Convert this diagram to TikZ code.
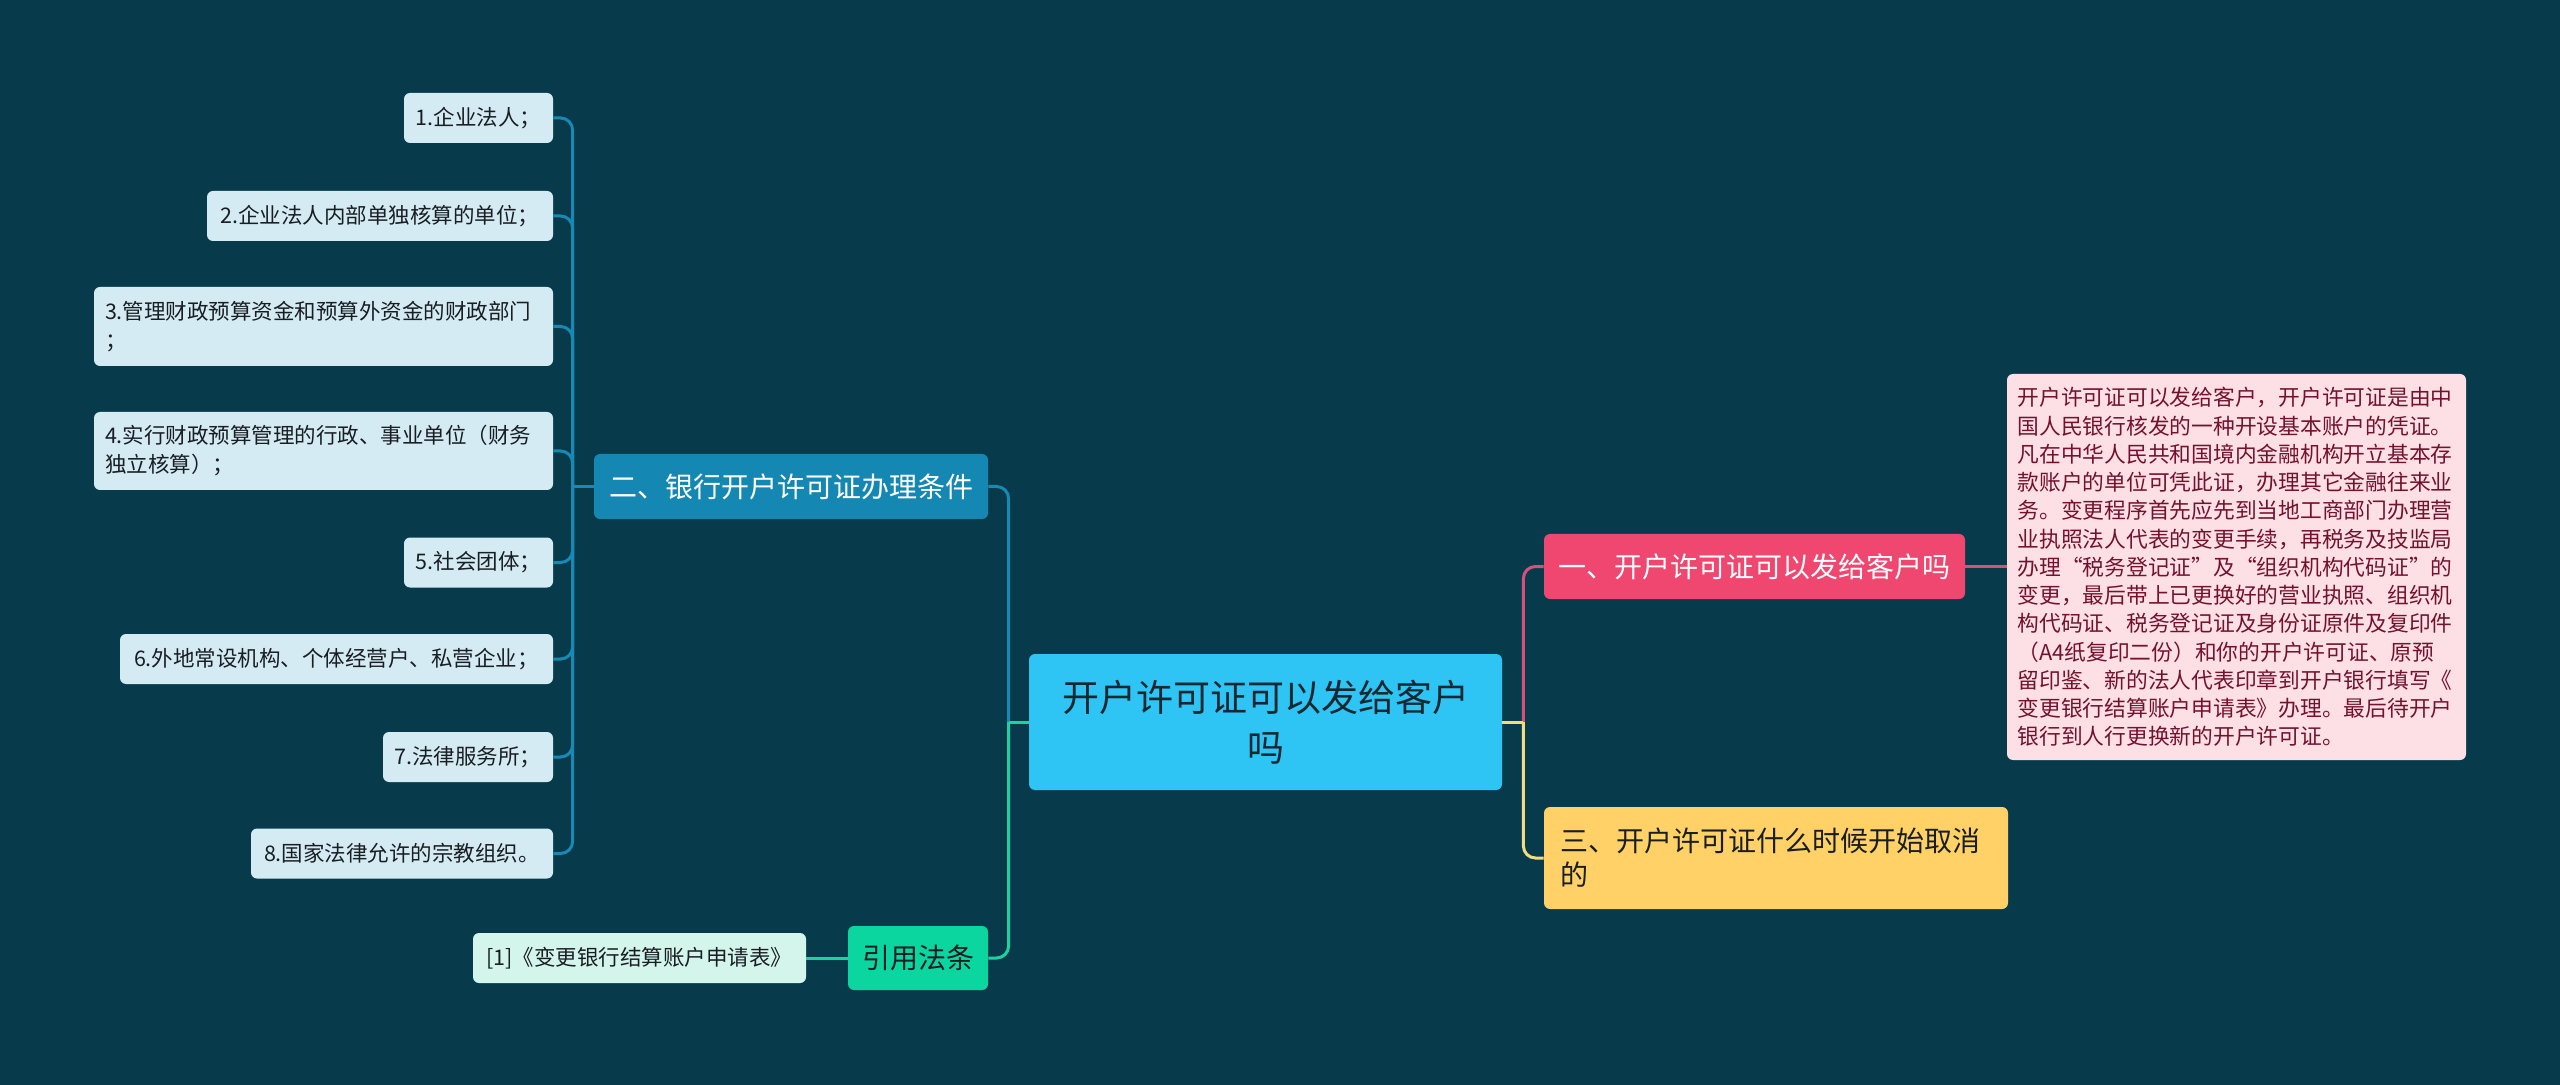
\documentclass[tikz,border=0pt]{standalone}
\usepackage{fontspec}
\setmainfont{Noto Sans CJK SC}
\usetikzlibrary{calc}
\definecolor{bg}{HTML}{073B4C}
\definecolor{centerfill}{RGB}{46,196,243}
\definecolor{centertext}{RGB}{20,40,50}
\definecolor{bluefill}{RGB}{20,136,178}
\definecolor{pinkfill}{HTML}{EF476F}
\definecolor{yellowfill}{HTML}{FFD166}
\definecolor{greenfill}{RGB}{12,214,160}
\definecolor{itemfill}{RGB}{212,235,243}
\definecolor{reffill}{RGB}{212,245,236}
\definecolor{descfill}{RGB}{253,224,230}
\definecolor{desctext}{RGB}{115,18,48}
\definecolor{darktext}{RGB}{25,30,35}
\definecolor{lineblue}{RGB}{24,136,180}
\definecolor{linegreen}{RGB}{28,210,160}
\definecolor{linepink}{RGB}{212,82,122}
\definecolor{lineyellow}{RGB}{240,220,130}
\begin{document}
\begin{tikzpicture}[x=0.5pt,y=-0.5pt,
  box/.style={rectangle, rounded corners=3pt, inner sep=0pt, align=center},
  itembox/.style={box, fill=itemfill, text=darktext, minimum height=25pt,
    font=\fontsize{10.75pt}{14.5pt}\selectfont},
  mainbox/.style={box, minimum height=32.5pt, font=\fontsize{14pt}{17pt}\selectfont},
  conn/.style={line width=1.5pt},
  lblue/.style={conn, draw=lineblue},
  lgreen/.style={conn, draw=linegreen},
  lpink/.style={conn, draw=linepink},
  lyellow/.style={conn, draw=lineyellow},
  rc/.style={rounded corners=6pt}]
\fill[bg] (0,0) rectangle (2560,1085);
\useasboundingbox (0,0) rectangle (2560,1085);

% center
\node[box, fill=centerfill, text=centertext, minimum width=236.5pt, minimum height=68pt,
  font=\fontsize{18.5pt}{25pt}\selectfont] (c) at (1265.5,722) {开户许可证可以发给客户\\吗};

% right side
\node[mainbox, fill=pinkfill, text=white, minimum width=210.5pt] (b1) at (1754.5,566.5) {一、开户许可证可以发给客户吗};
\node[mainbox, fill=yellowfill, text=darktext, text width=216pt, inner xsep=8pt,
  minimum height=51pt, align=left] (b3) at (1776,858) {三、开户许可证什么时候开始取消\\的};
\node[box, fill=descfill, text=desctext, text width=219pt, inner xsep=5.25pt,
  minimum height=193pt, align=left, font=\fontsize{10.875pt}{14.12pt}\selectfont] (d) at (2236.5,567)
{开户许可证可以发给客户，开户许可证是由中\\
国人民银行核发的一种开设基本账户的凭证。\\
凡在中华人民共和国境内金融机构开立基本存\\
款账户的单位可凭此证，办理其它金融往来业\\
务。变更程序首先应先到当地工商部门办理营\\
业执照法人代表的变更手续，再税务及技监局\\
办理“税务登记证”及“组织机构代码证”的\\
变更，最后带上已更换好的营业执照、组织机\\
构代码证、税务登记证及身份证原件及复印件\\
（A4纸复印二份）和你的开户许可证、原预\\
留印鉴、新的法人代表印章到开户银行填写《\\
变更银行结算账户申请表》办理。最后待开户\\
银行到人行更换新的开户许可证。};

% left side
\node[mainbox, fill=bluefill, text=white, minimum width=197pt] (b2) at (791,486.5) {二、银行开户许可证办理条件};
\node[mainbox, fill=greenfill, text=darktext, minimum width=70pt, minimum height=32pt] (cite) at (918,958) {引用法条};
\node[box, fill=reffill, text=darktext, minimum width=166.5pt, minimum height=25pt,
  font=\fontsize{10.75pt}{14.5pt}\selectfont] (ref) at (639.5,958) {[1]《变更银行结算账户申请表》};

\node[itembox, minimum width=74.5pt] (i1) at (478.5,118) {1.企业法人；};
\node[itembox, minimum width=173pt] (i2) at (380,216) {2.企业法人内部单独核算的单位；};
\node[itembox, text width=218.5pt, inner xsep=5.5pt, minimum height=39.5pt, align=left] (i3) at (323.5,326.5)
  {3.管理财政预算资金和预算外资金的财政部门\\；};
\node[itembox, text width=218.5pt, inner xsep=5.5pt, minimum height=39pt, align=left] (i4) at (323.5,451)
  {4.实行财政预算管理的行政、事业单位（财务\\独立核算）；};
\node[itembox, minimum width=74.5pt] (i5) at (478.5,562.5) {5.社会团体；};
\node[itembox, minimum width=216.5pt] (i6) at (336.5,659) {6.外地常设机构、个体经营户、私营企业；};
\node[itembox, minimum width=85pt] (i7) at (468,757) {7.法律服务所；};
\node[itembox, minimum width=151pt] (i8) at (402,853.5) {8.国家法律允许的宗教组织。};

% junctions
\coordinate (jl) at ($(c.west)+(-10pt,0)$);
\coordinate (jr) at ($(c.east)+(10.5pt,0)$);
\coordinate (jt) at ($(b2.west)+(-10.5pt,0)$);

% connectors
\draw[lblue, rc] (jl) |- (b2.east);
\draw[lgreen, rc] (jl) |- (cite.east);
\draw[lgreen] (c.west) -- (jl);
\draw[lpink, rc] (jr) |- (b1.west);
\draw[lyellow, rc] (jr) |- (b3.west);
\draw[lyellow] (c.east) -- (jr);
\draw[lpink] (b1.east) -- (b1.east -| d.west);
\draw[lgreen] (ref.east) -- (cite.west);
\draw[lblue] (b2.west) -- (jt);
\foreach \n in {1,...,8} {
  \draw[lblue, rc] (jt) |- (i\n.east);
}
\end{tikzpicture}
\end{document}
